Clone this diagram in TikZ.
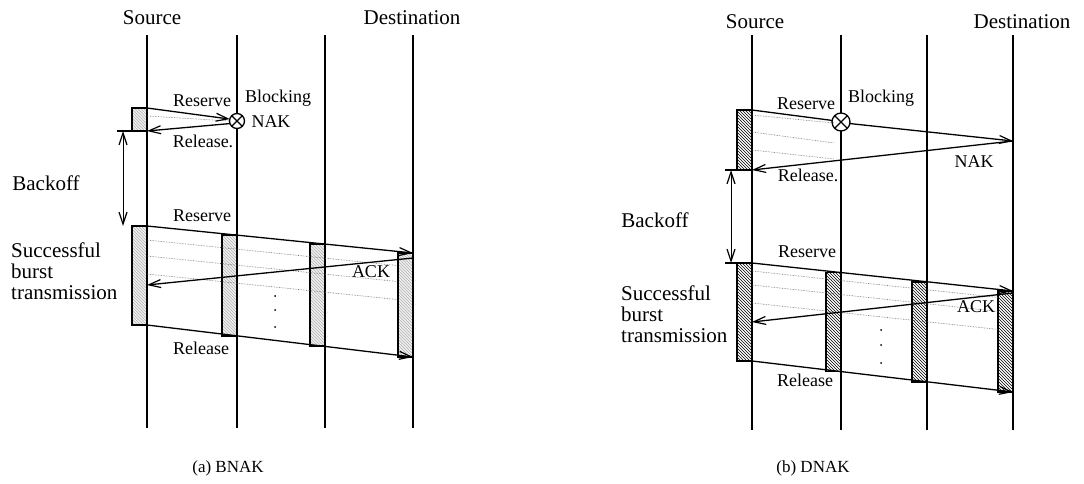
\documentclass[tikz,border=0pt]{standalone}
\usepackage{fontspec}
\setmainfont{Liberation Serif}
\usetikzlibrary{arrows.meta,patterns}
\tikzset{
  lifeline/.style={line width=2pt},
  msg/.style={line width=1.3pt},
  tipb/.tip={Straight Barb[length=12pt,width=8pt,line width=1.2pt]},
  arr/.style={msg,-tipb},
  dblarr/.style={line width=1pt,tipb-tipb},
  boxbase/.style={draw,line width=1.9pt,minimum width=15pt,inner sep=0pt,outer sep=0pt,anchor=north east},
  boxa/.style={boxbase,preaction={fill=gray!12},pattern=north west lines,pattern color=gray!60},
  boxb/.style={boxbase,pattern=north west lines,pattern color=black},
  dotl/.style={densely dotted,line width=0.6pt,black!60},
  big/.style={font=\fontsize{21}{23}\selectfont,inner sep=0pt},
  small/.style={font=\fontsize{18}{19}\selectfont,inner sep=0pt},
  captxt/.style={font=\fontsize{17}{18}\selectfont,inner sep=0pt},
  blockmark/.style={circle,draw,line width=1.3pt,minimum size=#1,inner sep=0pt,outer sep=0pt,fill=white,
    path picture={\draw[line width=1.2pt] (path picture bounding box.north west)--(path picture bounding box.south east)
      (path picture bounding box.north east)--(path picture bounding box.south west);}}
}
\begin{document}
\begin{tikzpicture}[x=1pt,y=-1pt]
\useasboundingbox (0,0) rectangle (1084,484);

%%%%%%%%%%%%%%%% (a) BNAK %%%%%%%%%%%%%%%%
\foreach \n/\x in {1/147,2/237,3/325,4/413}{
  \coordinate (a\n t) at (\x,35);
  \coordinate (a\n b) at (\x,428);
  \draw[lifeline] (a\n t) -- (a\n b);
}
\node[big] (asrc) at (152,18) {Source};
\node[big] (adst) at (412,18) {Destination};

% blocked attempt
\node[boxa,minimum height=23pt] (ab0) at (147,108) {};
\node[blockmark=15pt] (ca) at (237,121) {};
\coordinate (ad1) at (147,116);
\draw[dotl] (ad1) -- (ca.180);
\draw[arr] (ab0.north east) -- (ca.165);
\draw[arr] (ca.200) -- (ab0.south east);
\node[small] (ares0) at (202,101) {Reserve};
\node[small] (ablk) at (278,98) {Blocking};
\node[small] (anak) at (271,122) {NAK};
\node[small] (arel0) at (203,141) {Release.};

% backoff
\coordinate (abk1) at (123,131);
\coordinate (abk2) at (123,226);
\coordinate (atick) at (117,131);
\draw[msg] (atick) -- (ab0.south west);
\draw[dblarr] (abk1) -- (abk2);
\node[big] (aback) at (46,183) {Backoff};

% successful burst
\node[boxa,minimum height=99pt] (ab1) at (147,226) {};
\node[boxa,minimum height=101pt] (ab2) at (237,235) {};
\node[boxa,minimum height=102pt] (ab3) at (325,244) {};
\node[boxa,minimum height=104pt] (ab4) at (413,253) {};
\foreach \o in {14,30,48}{
  \draw[dotl] (147,226+\o) -- (397,{251.5+\o});
}
\draw[arr] (ab1.north east) -- (ab4.north east);
\draw[arr] (ab1.south east) -- (ab4.south east);
\coordinate (aack) at (413,258);
\draw[arr] (aack) -- (147,285);
\node[small] (ares1) at (202,216) {Reserve};
\node[small] (arel1) at (201,348) {Release};
\node[small] (aackl) at (371,272) {ACK};
\node[big,align=left,anchor=west,font=\fontsize{21}{21}\selectfont] (asucc) at (11,271) {Successful\\burst\\transmission};
\foreach \y in {296,310,327}{ \fill (275,\y) circle (1pt); }

\node[captxt] (acap) at (228,468) {(a) BNAK};

%%%%%%%%%%%%%%%% (b) DNAK %%%%%%%%%%%%%%%%
\foreach \n/\x in {1/752,2/841,3/927,4/1013}{
  \coordinate (b\n t) at (\x,35);
  \coordinate (b\n b) at (\x,430);
  \draw[lifeline] (b\n t) -- (b\n b);
}
\node[big] (bsrc) at (755,22) {Source};
\node[big] (bdst) at (1022,22) {Destination};

% blocked attempt
\node[boxb,minimum height=60pt] (bb0) at (752,110) {};
\node[blockmark=18pt] (cb) at (841,122) {};
\coordinate (bnak) at (1013,141);
\foreach \ya/\yb in {115/123,132/143,150/159}{
  \draw[dotl] (752,\ya) -- (834,\yb);
}
\draw[msg] (bb0.north east) -- (cb.170);
\draw[arr] (cb.-10) -- (bnak);
\draw[arr] (bnak) -- (bb0.south east);
\node[small] (bres0) at (806,104) {Reserve};
\node[small] (bblk) at (881,98) {Blocking};
\node[small] (bnakl) at (974,162) {NAK};
\node[small] (brel0) at (808,175) {Release.};

% backoff
\coordinate (bbk1) at (731,170);
\coordinate (bbk2) at (731,263);
\coordinate (btick1) at (725,170);
\coordinate (btick2) at (725,263);
\draw[msg] (btick1) -- (bb0.south west);
\draw[dblarr] (bbk1) -- (bbk2);
\node[big] (bback) at (655,220) {Backoff};

% successful burst
\node[boxb,minimum height=98pt] (bb1) at (752,263) {};
\node[boxb,minimum height=99pt] (bb2) at (841,272.5) {};
\node[boxb,minimum height=100pt] (bb3) at (927,282) {};
\node[boxb,minimum height=101pt] (bb4) at (1013,291) {};
\draw[msg] (btick2) -- (bb1.north west);
\foreach \o in {8,22,40}{
  \draw[dotl] (752,263+\o) -- (998,{289.4+\o});
}
\draw[arr] (bb1.north east) -- (bb4.north east);
\draw[arr] (bb1.south east) -- (bb4.south east);
\coordinate (back) at (1013,293);
\draw[arr] (back) -- (752,322);
\node[small] (bres1) at (807,252) {Reserve};
\node[small] (brel1) at (805,380) {Release};
\node[small] (backl) at (976,307) {ACK};
\node[big,align=left,anchor=west,font=\fontsize{21}{21}\selectfont] (bsucc) at (621,314) {Successful\\burst\\transmission};
\foreach \y in {330,345,363}{ \fill (881,\y) circle (1pt); }

\node[captxt] (bcap) at (813,468) {(b) DNAK};
\end{tikzpicture}
\end{document}
